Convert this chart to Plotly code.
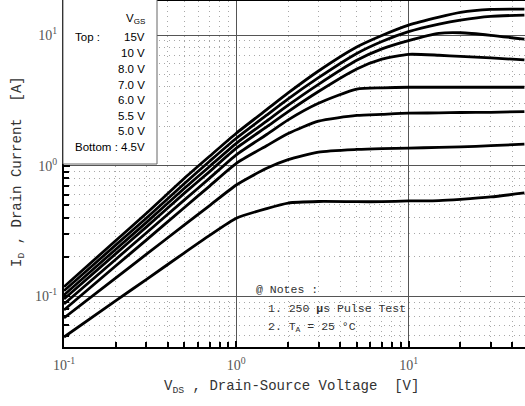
import plotly.graph_objects as go

# ---------------- data ----------------
vds = [0.1, 0.2, 0.3, 0.5, 0.7, 1, 1.5, 2, 3, 5, 7, 10, 15, 20, 30, 47]
id_15v = [0.118, 0.267, 0.430, 0.800, 1.18, 1.77, 2.68, 3.60, 5.30, 8.09, 9.91, 11.9, 13.7, 14.9, 15.7, 15.8]
id_10v = [0.110, 0.247, 0.395, 0.730, 1.08, 1.62, 2.43, 3.24, 4.71, 7.22, 8.92, 10.6, 12.1, 13.0, 13.9, 14.2]
id_8v = [0.102, 0.229, 0.366, 0.670, 0.985, 1.48, 2.19, 2.90, 4.19, 6.40, 7.83, 9.06, 10.3, 10.4, 9.95, 9.29]
id_7v = [0.0952, 0.212, 0.338, 0.615, 0.900, 1.36, 1.98, 2.59, 3.69, 5.49, 6.53, 7.11, 7.00, 6.86, 6.68, 6.44]
id_6v = [0.0871, 0.192, 0.305, 0.546, 0.802, 1.21, 1.73, 2.24, 3.00, 3.85, 3.94, 3.98, 3.98, 3.98, 3.98, 3.98]
id_55v = [0.0784, 0.171, 0.269, 0.478, 0.697, 1.04, 1.42, 1.76, 2.19, 2.42, 2.47, 2.52, 2.53, 2.55, 2.56, 2.59]
id_5v = [0.0681, 0.138, 0.209, 0.351, 0.494, 0.710, 0.953, 1.11, 1.27, 1.33, 1.35, 1.36, 1.38, 1.39, 1.42, 1.46]
id_45v = [0.0487, 0.0926, 0.134, 0.215, 0.292, 0.395, 0.469, 0.517, 0.531, 0.529, 0.529, 0.536, 0.540, 0.552, 0.575, 0.617]

series = [id_15v, id_10v, id_8v, id_7v, id_6v, id_55v, id_5v, id_45v]
series_names = ["15V", "10V", "8.0V", "7.0V", "6.0V", "5.5V", "5.0V", "4.5V"]

legend_title = "V<sub>GS</sub>"
legend_labels = ["15V", "10 V", "8.0 V", "7.0 V", "6.0 V", "5.5 V", "5.0 V", "4.5V"]

major_vals = [0.1, 1, 10]
x_tick_text = ["10<sup>-1</sup>", "10<sup>0</sup>", "10<sup>1</sup>"]
y_tick_text = ["10<sup>-1</sup>", "10<sup>0</sup>", "10<sup>1</sup>"]
minor_x = [m * d for d in (0.1, 1, 10) for m in range(2, 10)]
minor_y = [m * d for d in (0.01, 0.1, 1, 10) for m in range(2, 10)]

notes = ["@ Notes :", "1. 250 <b>µ</b>s Pulse Test", "2. T<sub>A</sub> = 25 °C"]

# ---------------- figure ----------------
W, H = 525, 406
ML, MR, MT, MB = 64, 0, 1, 59
PW, PH = W - ML - MR, H - MT - MB


def px(x):
    return (x - ML) / PW


def py(y):
    return (H - MB - y) / PH


fig = go.Figure()
for name, ys in zip(series_names, series):
    fig.add_trace(go.Scatter(
        x=vds, y=ys, mode="lines", name=name,
        line=dict(color="black", width=2.8, shape="spline", smoothing=0.6),
        showlegend=False, hoverinfo="skip"))

axis_common = dict(
    type="log", showline=True, linecolor="black", linewidth=2,
    ticks="inside", ticklen=6, tickwidth=2, tickcolor="black",
    showgrid=True, gridcolor="#555", gridwidth=1,
    tickmode="array", tickvals=major_vals,
    tickfont=dict(family="Liberation Serif", size=14, color="#555"),
    zeroline=False, automargin=False,
)
minor_common = dict(tickmode="array", ticks="inside", ticklen=5,
                    tickwidth=2, tickcolor="black", showgrid=True,
                    gridcolor="#a8a8a8", gridwidth=1, griddash="1px,4px")

fig.update_xaxes(
    **axis_common, ticktext=x_tick_text,
    range=[-1, 1.6756], mirror=True, ticklabelstandoff=4,
    minor=dict(tickvals=minor_x, **minor_common),
)
fig.update_yaxes(
    **axis_common, ticktext=y_tick_text,
    range=[-1.389, 1.2603], ticklabelstandoff=2,
    minor=dict(tickvals=minor_y, **minor_common),
)

# legend box
fig.add_shape(type="rect", xref="paper", yref="paper",
              x0=px(63), x1=px(157), y0=py(164), y1=py(-2),
              fillcolor="white", line=dict(color="#666", width=1), layer="above")

annotations = []


def ann(x, y, text, font, xanchor="left", **kw):
    annotations.append(dict(x=px(x), y=py(y), xref="paper", yref="paper",
                            text=text, xanchor=xanchor, yanchor="middle",
                            showarrow=False, font=font, **kw))


lf = dict(family="Liberation Sans", size=11.5, color="black")
ann(147, 19, legend_title, lf, "right")
leg_y = [37, 53, 69, 85, 100, 116, 131, 147]
for lab, yy in zip(legend_labels, leg_y):
    ann(147, yy, lab, lf, "right")
ann(73, 37, "Top :", lf)
ann(73, 147, "Bottom :", lf)

# notes
nf = dict(family="Liberation Mono", size=11.5, color="#333")
ann(254, 289, notes[0], nf)
ann(266, 308, notes[1], nf)
ann(266, 327, notes[2], nf)

# axis titles
tf = dict(family="Liberation Mono", size=14, color="#333")
ann(291, 387, "V<sub>DS</sub> , Drain-Source Voltage  [V]", tf, "center")
ann(18, 172, "I<sub>D</sub> , Drain Current  [A]", tf, "center", textangle=-90)

fig.update_layout(
    width=W, height=H,
    margin=dict(l=ML, r=MR, t=MT, b=MB, autoexpand=False),
    paper_bgcolor="white", plot_bgcolor="white",
    annotations=annotations,
    showlegend=False,
)

fig.write_html("out.html", config={"displayModeBar": False},
               post_script="document.body.style.margin='0';document.body.style.overflow='hidden';")
